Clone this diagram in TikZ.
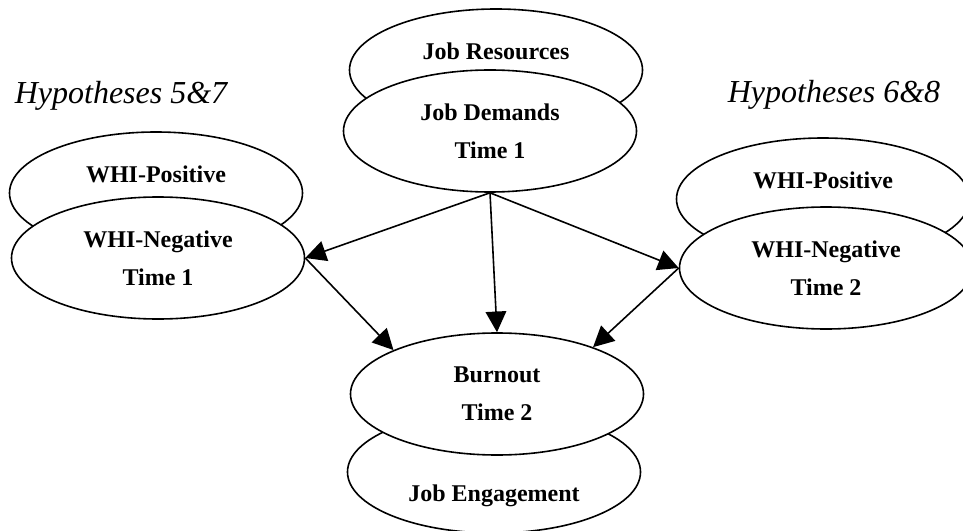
\documentclass[tikz,border=0pt]{standalone}
\usepackage{fontspec}
\setmainfont{Liberation Serif}
\usetikzlibrary{shapes.geometric,arrows.meta}
\tikzset{
	oval/.style={draw,ellipse,fill=white,line width=1.2pt,inner sep=0pt,
		minimum width=219.75pt,minimum height=91.5pt,align=center,
		font=\bfseries\fontsize{18}{28.5}\selectfont},
	hyp/.style={anchor=base,font=\itshape\fontsize{24}{28}\selectfont},
	link/.style={line width=1.2pt,-{Triangle[length=15.5pt,width=15.5pt]}}
}
\begin{document}
\begin{tikzpicture}[x=0.75pt,y=-0.75pt]
	\useasboundingbox (0,0) rectangle (963,531);
	% top
	\node[oval] (res) at (496,70) {Job Resources\\ ~};
	\node[oval] (dem) at (490,131) {Job Demands\\Time 1};
	% left
	\node[oval] (posL) at (156,193) {WHI-Positive\\ ~};
	\node[oval] (negL) at (158,258) {WHI-Negative\\Time 1};
	% right
	\node[oval] (posR) at (823,199) {WHI-Positive\\ ~};
	\node[oval] (negR) at (826,268) {WHI-Negative\\Time 2};
	% bottom
	\node[oval] (eng) at (494,472) {\strut\\Job Engagement};
	\node[oval] (burn) at (497,394) {Burnout\\Time 2};
	\node[hyp] (hypL) at (121,104) {Hypotheses 5\&7};
	\node[hyp] (hypR) at (834,103) {Hypotheses 6\&8};
	\foreach \a/\b in {dem.south/negL.east,dem.south/burn.north,dem.south/negR.west,negL.east/burn.157,negR.west/burn.26}{
		\draw[link] (\a) -- (\b);
	}
\end{tikzpicture}
\end{document}
